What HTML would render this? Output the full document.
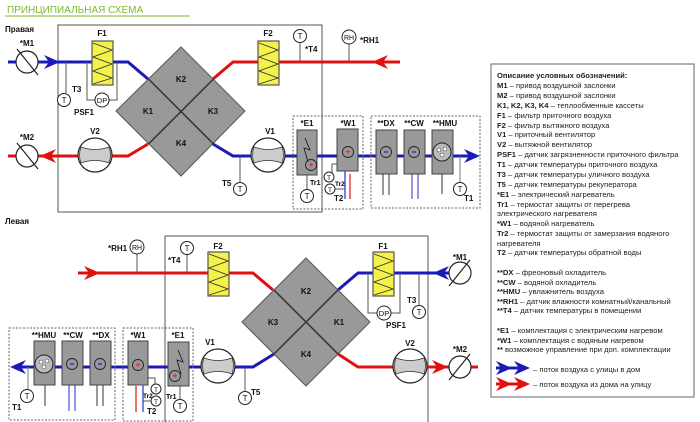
<!DOCTYPE html>
<html><head><meta charset="utf-8"><style>
html,body{margin:0;padding:0;background:#fff;width:700px;height:422px;overflow:hidden}
svg{display:block;font-family:"Liberation Sans",Arial,sans-serif}
.lb{font-size:8px;font-weight:bold;fill:#111}
.lg{font-size:7.6px;fill:#222}
</style></head><body>
<svg width="700" height="422" viewBox="0 0 700 422" xmlns="http://www.w3.org/2000/svg">
<defs>
<g id="fan"><circle r="17" fill="#fff" stroke="#222" stroke-width="1.2"/><path d="M-14,-8 Q0,-3 14,-8 Q17,0 14,8 Q0,3 -14,8 Q-17,0 -14,-8Z" fill="#ccc" stroke="#333" stroke-width="0.8"/></g>
<g id="damp"><circle r="11" fill="#fff" stroke="#222" stroke-width="1.2"/><line x1="-10" y1="-13" x2="11" y2="13" stroke="#222" stroke-width="1.2"/></g>
<g id="damp2"><circle r="11" fill="#fff" stroke="#222" stroke-width="1.2"/><line x1="-11" y1="13" x2="10" y2="-13" stroke="#222" stroke-width="1.2"/></g>
<g id="tc"><circle r="6.5" fill="#fff" stroke="#222" stroke-width="1"/><text y="3" text-anchor="middle" font-size="8" fill="#111">T</text></g>
<g id="filt"><rect x="0" y="0" width="21" height="44" fill="#f4f24a" stroke="#555" stroke-width="1.2"/><polyline points="1,2 20,9 1,16 20,23 1,30 20,37 1,43" fill="none" stroke="#333" stroke-width="0.9"/></g>
<g id="minus"><circle r="5.5" fill="none" stroke="#222" stroke-width="0.9"/><line x1="-2" x2="2" y1="0" y2="0" stroke="#1a1acc" stroke-width="1.2"/></g>
<g id="plus"><circle r="5.5" fill="none" stroke="#222" stroke-width="0.9"/><text y="3" text-anchor="middle" font-size="9" fill="#e00">+</text></g>
<g id="hmu"><circle r="9" fill="#bbb" stroke="#222" stroke-width="1"/><circle cx="-3" cy="-2" r="2" fill="#fff" stroke="#333" stroke-width="0.5"/><circle cx="3" cy="-3" r="2" fill="#fff" stroke="#333" stroke-width="0.5"/><circle cx="0" cy="3" r="2" fill="#fff" stroke="#333" stroke-width="0.5"/></g>
</defs>

<text x="7" y="13" font-size="10" fill="#7cb82f">ПРИНЦИПИАЛЬНАЯ СХЕМА</text>
<line x1="5" y1="16" x2="190" y2="16" stroke="#7cb82f" stroke-width="1"/>
<text x="5" y="32" class="lb">Правая</text>

<rect x="58" y="25" width="264" height="187" fill="none" stroke="#555" stroke-width="1"/>
<polyline points="8,62 128,62 148,79" fill="none" stroke="#1a1ab8" stroke-width="3"/>
<polyline points="213,79 233,62 400,62" fill="none" stroke="#e01010" stroke-width="3"/>
<polyline points="213,144 233,156 472,156" fill="none" stroke="#1a1ab8" stroke-width="3"/>
<polyline points="148,144 128,156 8,156" fill="none" stroke="#e01010" stroke-width="3"/>
<polygon points="60,62 44,55 49,62 44,69" fill="#1a1ab8"/>
<polygon points="40,156 56,149 51,156 56,163" fill="#e01010"/>
<polygon points="372,62 388,55 383,62 388,69" fill="#e01010"/>
<polygon points="480,156 464,149 469,156 464,163" fill="#1a1ab8"/>
<polygon points="181,47 245,111 181,176 116,111" fill="#999" stroke="#555" stroke-width="1"/>
<line x1="148.5" y1="79" x2="213.5" y2="144" stroke="#333" stroke-width="1.5"/>
<line x1="213.5" y1="79" x2="148.5" y2="144" stroke="#333" stroke-width="1.5"/>
<text x="181" y="82" class="lb" text-anchor="middle">K2</text>
<text x="148" y="114" class="lb" text-anchor="middle">K1</text>
<text x="213" y="114" class="lb" text-anchor="middle">K3</text>
<text x="181" y="146" class="lb" text-anchor="middle">K4</text>
<use href="#damp" x="27" y="62"/>
<use href="#damp" x="27" y="156"/>
<text x="27" y="46" class="lb" text-anchor="middle">*M1</text>
<text x="27" y="140" class="lb" text-anchor="middle">*M2</text>
<use href="#filt" x="92" y="41"/><text x="102" y="36" class="lb" text-anchor="middle">F1</text>
<use href="#filt" x="258" y="41"/><text x="268" y="36" class="lb" text-anchor="middle">F2</text>
<line x1="66" y1="62" x2="66" y2="93" stroke="#555"/><use href="#tc" x="64" y="100"/>
<text x="72" y="92" class="lb">T3</text>
<polyline points="87,62 87,100 117,100 117,62" fill="none" stroke="#555"/>
<circle cx="102" cy="100" r="7" fill="#fff" stroke="#222"/><text x="102" y="103" text-anchor="middle" font-size="7.5" fill="#111">DP</text>
<text x="74" y="115" class="lb">PSF1</text>
<line x1="300" y1="42" x2="300" y2="62" stroke="#555"/><use href="#tc" x="300" y="36"/>
<text x="305" y="52" class="lb">*T4</text>
<line x1="349" y1="44" x2="349" y2="62" stroke="#555"/>
<circle cx="349" cy="37" r="7" fill="#fff" stroke="#222"/><text x="349" y="40" text-anchor="middle" font-size="7" fill="#111">RH</text>
<text x="360" y="43" class="lb">*RH1</text>
<use href="#fan" x="95" y="155"/><text x="95" y="134" class="lb" text-anchor="middle">V2</text>
<use href="#fan" x="268" y="155"/><text x="270" y="134" class="lb" text-anchor="middle">V1</text>
<line x1="240" y1="156" x2="240" y2="183" stroke="#555"/><use href="#tc" x="240" y="189"/>
<text x="222" y="186" class="lb">T5</text>
<rect x="293" y="116" width="70" height="93" fill="none" stroke="#666" stroke-dasharray="2,1.5"/>
<rect x="371" y="116" width="109" height="92" fill="none" stroke="#666" stroke-dasharray="2,1.5"/>
<rect x="297" y="130" width="20" height="45" fill="#999" stroke="#444"/>
<polyline points="305,138 310,150 304,148 308,162" fill="none" stroke="#111" stroke-width="0.8"/>
<use href="#plus" x="311" y="165"/>
<line x1="307" y1="175" x2="307" y2="190" stroke="#555"/><use href="#tc" x="307" y="196"/>
<text x="310" y="185" font-size="7" font-weight="bold">Tr1</text>
<text x="307" y="126" class="lb" text-anchor="middle">*E1</text>
<rect x="337" y="129" width="21" height="42" fill="#999" stroke="#444"/>
<use href="#plus" x="348" y="152"/>
<text x="348" y="126" class="lb" text-anchor="middle">*W1</text>
<polyline points="337,164 332,164 332,175 328,175" fill="none" stroke="#555"/>
<circle cx="329" cy="177" r="5" fill="#fff" stroke="#222"/><text x="329" y="180" text-anchor="middle" font-size="6.5">T</text>
<circle cx="330" cy="189" r="5" fill="#fff" stroke="#222"/><text x="330" y="192" text-anchor="middle" font-size="6.5">T</text>
<polyline points="335,189 345,189 345,171" fill="none" stroke="#555"/>
<text x="335" y="186" font-size="6.5" font-weight="bold">Tr2</text>
<text x="334" y="201" class="lb">T2</text>
<line x1="345" y1="171" x2="345" y2="199" stroke="#2a2ad0" stroke-width="1.2"/>
<line x1="350" y1="174" x2="350" y2="199" stroke="#e01010" stroke-width="1.2"/>
<rect x="376" y="130" width="21" height="44" fill="#999" stroke="#444"/><use href="#minus" x="386" y="152"/>
<rect x="404" y="130" width="21" height="44" fill="#999" stroke="#444"/><use href="#minus" x="414" y="152"/>
<rect x="432" y="130" width="21" height="44" fill="#999" stroke="#444"/><use href="#hmu" x="442" y="152"/>
<text x="386" y="126" class="lb" text-anchor="middle">**DX</text>
<text x="414" y="126" class="lb" text-anchor="middle">**CW</text>
<text x="445" y="126" class="lb" text-anchor="middle">**HMU</text>
<line x1="383" y1="174" x2="383" y2="195" stroke="#333"/><line x1="389" y1="174" x2="389" y2="195" stroke="#333"/>
<line x1="412" y1="174" x2="412" y2="199" stroke="#2a2ad0"/><line x1="418" y1="174" x2="418" y2="199" stroke="#2a2ad0"/>
<line x1="442" y1="174" x2="442" y2="194" stroke="#333"/>
<line x1="460" y1="156" x2="460" y2="182" stroke="#777"/><use href="#tc" x="460" y="189"/>
<text x="464" y="201" class="lb">T1</text>

<text x="5" y="224" class="lb">Левая</text>
<polyline points="165,422 165,236 428,236 428,422" fill="none" stroke="#555" stroke-width="1"/>
<polyline points="78,273 253,273 273,290" fill="none" stroke="#e01010" stroke-width="3"/>
<polyline points="338,290 358,273 470,273" fill="none" stroke="#1a1ab8" stroke-width="3"/>
<polyline points="338,354 358,367 478,367" fill="none" stroke="#e01010" stroke-width="3"/>
<polyline points="274,354 253,367 14,367" fill="none" stroke="#1a1ab8" stroke-width="3"/>
<polygon points="100,273 84,266 89,273 84,280" fill="#e01010"/>
<polygon points="433,273 449,266 444,273 449,280" fill="#1a1ab8"/>
<polygon points="448,367 432,360 437,367 432,374" fill="#e01010"/>
<polygon points="10,367 26,360 21,367 26,374" fill="#1a1ab8"/>
<polygon points="306,258 370,322 306,386 242,322" fill="#999" stroke="#555" stroke-width="1"/>
<line x1="274" y1="290" x2="338" y2="354" stroke="#333" stroke-width="1.5"/>
<line x1="338" y1="290" x2="274" y2="354" stroke="#333" stroke-width="1.5"/>
<text x="306" y="294" class="lb" text-anchor="middle">K2</text>
<text x="273" y="325" class="lb" text-anchor="middle">K3</text>
<text x="339" y="325" class="lb" text-anchor="middle">K1</text>
<text x="306" y="357" class="lb" text-anchor="middle">K4</text>
<line x1="137" y1="254" x2="137" y2="273" stroke="#555"/>
<circle cx="137" cy="247" r="7" fill="#fff" stroke="#222"/><text x="137" y="250" text-anchor="middle" font-size="7" fill="#111">RH</text>
<text x="108" y="251" class="lb">*RH1</text>
<line x1="187" y1="254" x2="187" y2="273" stroke="#555"/><use href="#tc" x="187" y="248"/>
<text x="168" y="263" class="lb">*T4</text>
<use href="#filt" x="208" y="252"/><text x="218" y="249" class="lb" text-anchor="middle">F2</text>
<use href="#filt" x="373" y="252"/><text x="383" y="249" class="lb" text-anchor="middle">F1</text>
<polyline points="368,273 368,313 400,313 400,273" fill="none" stroke="#555"/>
<circle cx="384" cy="313" r="7" fill="#fff" stroke="#222"/><text x="384" y="316" text-anchor="middle" font-size="7.5">DP</text>
<text x="386" y="328" class="lb">PSF1</text>
<line x1="419" y1="273" x2="419" y2="306" stroke="#555"/><use href="#tc" x="419" y="312"/>
<text x="407" y="303" class="lb">T3</text>
<use href="#damp2" x="460" y="273"/><text x="460" y="260" class="lb" text-anchor="middle">*M1</text>
<use href="#damp2" x="460" y="367"/><text x="460" y="352" class="lb" text-anchor="middle">*M2</text>
<use href="#fan" x="410" y="366"/><text x="410" y="346" class="lb" text-anchor="middle">V2</text>
<use href="#fan" x="218" y="366"/><text x="210" y="345" class="lb" text-anchor="middle">V1</text>
<line x1="245" y1="367" x2="245" y2="392" stroke="#555"/><use href="#tc" x="245" y="398"/>
<text x="251" y="395" class="lb">T5</text>
<rect x="123" y="328" width="70" height="93" fill="none" stroke="#666" stroke-dasharray="2,1.5"/>
<rect x="9" y="328" width="106" height="92" fill="none" stroke="#666" stroke-dasharray="2,1.5"/>
<rect x="128" y="341" width="20" height="44" fill="#999" stroke="#444"/><use href="#plus" x="138" y="365"/>
<text x="138" y="338" class="lb" text-anchor="middle">*W1</text>
<rect x="168" y="342" width="21" height="44" fill="#999" stroke="#444"/>
<polyline points="178,350 183,362 177,360 181,374" fill="none" stroke="#111" stroke-width="0.8"/>
<use href="#plus" x="175" y="376"/>
<text x="178" y="338" class="lb" text-anchor="middle">*E1</text>
<line x1="180" y1="386" x2="180" y2="402" stroke="#555"/><use href="#tc" x="180" y="406"/>
<text x="166" y="399" font-size="7" font-weight="bold">Tr1</text>
<polyline points="148,378 155,378 155,388" fill="none" stroke="#555"/>
<circle cx="156" cy="389" r="5" fill="#fff" stroke="#222"/><text x="156" y="392" text-anchor="middle" font-size="6.5">T</text>
<circle cx="156" cy="401" r="5" fill="#fff" stroke="#222"/><text x="156" y="404" text-anchor="middle" font-size="6.5">T</text>
<polyline points="151,401 143,401 143,385" fill="none" stroke="#555"/>
<text x="143" y="398" font-size="6.5" font-weight="bold">Tr2</text>
<text x="147" y="414" class="lb">T2</text>
<line x1="136" y1="386" x2="136" y2="412" stroke="#e01010" stroke-width="1.2"/>
<line x1="143" y1="386" x2="143" y2="412" stroke="#2a2ad0" stroke-width="1.2"/>
<rect x="34" y="341" width="21" height="44" fill="#999" stroke="#444"/><use href="#hmu" x="44" y="364"/>
<rect x="62" y="341" width="21" height="44" fill="#999" stroke="#444"/><use href="#minus" x="72" y="364"/>
<rect x="90" y="341" width="21" height="44" fill="#999" stroke="#444"/><use href="#minus" x="100" y="364"/>
<text x="44" y="338" class="lb" text-anchor="middle">**HMU</text>
<text x="73" y="338" class="lb" text-anchor="middle">**CW</text>
<text x="101" y="338" class="lb" text-anchor="middle">**DX</text>
<line x1="45" y1="385" x2="45" y2="406" stroke="#333"/>
<line x1="69" y1="385" x2="69" y2="411" stroke="#2a2ad0"/><line x1="75" y1="385" x2="75" y2="411" stroke="#2a2ad0"/>
<line x1="97" y1="385" x2="97" y2="406" stroke="#333"/><line x1="103" y1="385" x2="103" y2="406" stroke="#333"/>
<line x1="28" y1="367" x2="28" y2="390" stroke="#777"/><use href="#tc" x="27" y="396"/>
<text x="12" y="410" class="lb">T1</text>

<rect x="491" y="64" width="203" height="333" fill="#fff" stroke="#666" stroke-width="1"/>
<g class="lg">
<text x="497" y="78" font-weight="bold">Описание условных обозначений:</text>
<text x="497" y="88"><tspan font-weight="bold">M1</tspan> – привод воздушной заслонки</text>
<text x="497" y="98"><tspan font-weight="bold">M2</tspan> – привод воздушной заслонки</text>
<text x="497" y="108"><tspan font-weight="bold">K1, K2, K3, K4</tspan> – теплообменные кассеты</text>
<text x="497" y="118"><tspan font-weight="bold">F1</tspan> – фильтр приточного воздуха</text>
<text x="497" y="128"><tspan font-weight="bold">F2</tspan> – фильтр вытяжного воздуха</text>
<text x="497" y="137"><tspan font-weight="bold">V1</tspan> – приточный вентилятор</text>
<text x="497" y="147"><tspan font-weight="bold">V2</tspan> – вытяжной вентилятор</text>
<text x="497" y="157"><tspan font-weight="bold">PSF1</tspan> – датчик загрязненности приточного фильтра</text>
<text x="497" y="167"><tspan font-weight="bold">T1</tspan> – датчик температуры приточного воздуха</text>
<text x="497" y="177"><tspan font-weight="bold">T3</tspan> – датчик температуры уличного воздуха</text>
<text x="497" y="187"><tspan font-weight="bold">T5</tspan> – датчик температуры рекуператора</text>
<text x="497" y="197"><tspan font-weight="bold">*E1</tspan> – электрический нагреватель</text>
<text x="497" y="207"><tspan font-weight="bold">Tr1</tspan> – термостат защиты от перегрева</text>
<text x="497" y="216">электрического нагревателя</text>
<text x="497" y="226"><tspan font-weight="bold">*W1</tspan> – водяной нагреватель</text>
<text x="497" y="236"><tspan font-weight="bold">Tr2</tspan> – термостат защиты от замерзания водяного</text>
<text x="497" y="246">нагревателя</text>
<text x="497" y="255"><tspan font-weight="bold">T2</tspan> –  датчик температуры обратной воды</text>
<text x="497" y="275"><tspan font-weight="bold">**DX</tspan> –  фреоновый охладитель</text>
<text x="497" y="285"><tspan font-weight="bold">**CW</tspan> – водяной охладитель</text>
<text x="497" y="294"><tspan font-weight="bold">**HMU</tspan> – увлажнитель воздуха</text>
<text x="497" y="304"><tspan font-weight="bold">**RH1</tspan> – датчик влажности комнатный/канальный</text>
<text x="497" y="313"><tspan font-weight="bold">**T4</tspan> – датчик температуры в помещении</text>
<text x="497" y="333"><tspan font-weight="bold">*E1</tspan> – комплектация с электрическим нагревом</text>
<text x="497" y="343"><tspan font-weight="bold">*W1</tspan> – комплектация с водяным нагревом</text>
<text x="497" y="352"><tspan font-weight="bold">**</tspan> возможное управление при доп. комплектации</text>
<text x="533" y="372">–  поток воздуха с улицы в дом</text>
<text x="533" y="387">–  поток воздуха из дома на улицу</text>
</g>
<line x1="496" y1="368" x2="520" y2="368" stroke="#1a1ab8" stroke-width="3"/>
<polygon points="530,368 514,361 519,368 514,375" fill="#1a1ab8"/>
<polygon points="512,368 496,361 501,368 496,375" fill="#1a1ab8"/>
<line x1="496" y1="384" x2="520" y2="384" stroke="#e01010" stroke-width="3"/>
<polygon points="530,384 514,377 519,384 514,391" fill="#e01010"/>
<polygon points="512,384 496,377 501,384 496,391" fill="#e01010"/>
</svg>
</body></html>
